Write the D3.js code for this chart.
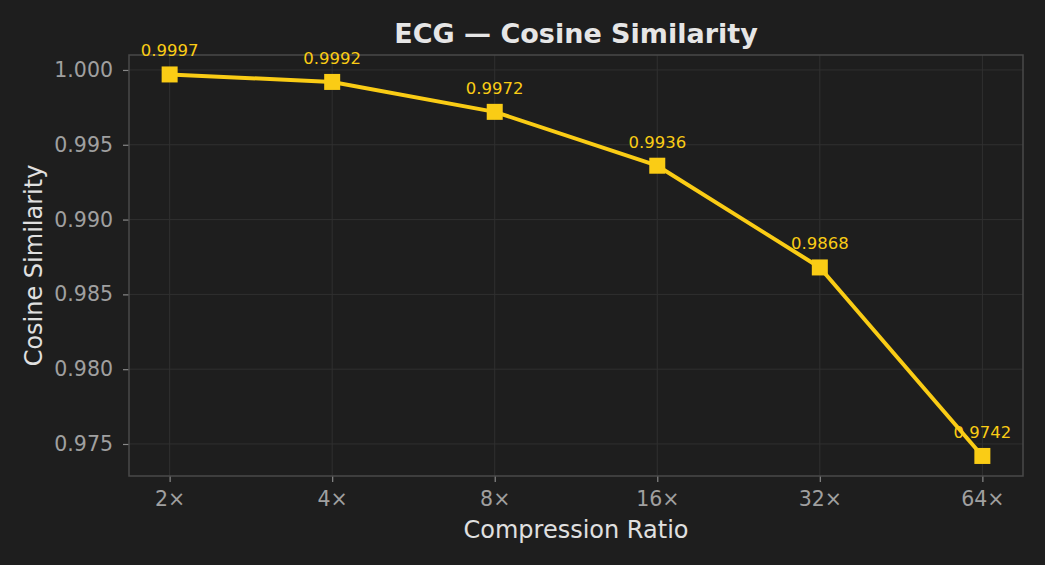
<!DOCTYPE html>
<html>
<head>
<meta charset="utf-8">
<script src="https://cdn.jsdelivr.net/npm/d3@7"></script>
<style>
  html, body { margin: 0; padding: 0; background: #1e1e1e; }
  svg { display: block; font-family: "DejaVu Sans", sans-serif; }
</style>
</head>
<body>
<svg id="chart"></svg>
<script>
var ratios = ["2\u00d7", "4\u00d7", "8\u00d7", "16\u00d7", "32\u00d7", "64\u00d7"];
var cosSim = [0.9997, 0.9992, 0.9972, 0.9936, 0.9868, 0.9742];
var yTicks = [0.975, 0.980, 0.985, 0.990, 0.995, 1.000];

var W = 1045, H = 565;
var mLeft = 129, mRight = 1023, mTop = 55, mBottom = 476;

var svg = d3.select("#chart").attr("width", W).attr("height", H);
svg.append("rect").attr("width", W).attr("height", H).attr("fill", "#1e1e1e");

var x = d3.scalePoint().domain(ratios).range([mLeft, mRight]).padding(0.25);
var y = d3.scaleLinear().domain([0.97286, 1.001]).range([mBottom, mTop]);

// grid
svg.append("g").selectAll("line").data(yTicks).join("line")
  .attr("x1", mLeft).attr("x2", mRight)
  .attr("y1", function (d) { return y(d); }).attr("y2", function (d) { return y(d); })
  .attr("stroke", "#303030").attr("stroke-width", 1);
svg.append("g").selectAll("line").data(ratios).join("line")
  .attr("x1", function (d) { return x(d); }).attr("x2", function (d) { return x(d); })
  .attr("y1", mTop).attr("y2", mBottom)
  .attr("stroke", "#303030").attr("stroke-width", 1);

// axes
var yAxis = d3.axisLeft(y).tickValues(yTicks).tickFormat(d3.format(".3f")).tickSize(6).tickPadding(10);
var xAxis = d3.axisBottom(x).tickSize(6).tickPadding(7);

var gy = svg.append("g").attr("transform", "translate(" + mLeft + ",0)").call(yAxis);
var gx = svg.append("g").attr("transform", "translate(0," + mBottom + ")").call(xAxis);
[gy, gx].forEach(function (g) {
  g.select(".domain").remove();
  g.selectAll(".tick line").attr("stroke", "#888").attr("stroke-width", 1.2);
  g.selectAll(".tick text").attr("fill", "#a0a0a0").style("font-size", "20.5px")
    .style("font-family", "DejaVu Sans, sans-serif");
});
gx.selectAll(".tick text").attr("dy", "0.85em");

// frame
svg.append("rect")
  .attr("x", mLeft).attr("y", mTop).attr("width", mRight - mLeft).attr("height", mBottom - mTop)
  .attr("fill", "none").attr("stroke", "#4a4a4a").attr("stroke-width", 1.5);

// line
var line = d3.line()
  .x(function (d, i) { return x(ratios[i]); })
  .y(function (d) { return y(d); });
svg.append("path").datum(cosSim)
  .attr("d", line).attr("fill", "none")
  .attr("stroke", "#facc15").attr("stroke-width", 4).attr("stroke-linejoin", "round");

svg.append("g").selectAll("rect").data(cosSim).join("rect")
  .attr("x", function (d, i) { return x(ratios[i]) - 8; })
  .attr("y", function (d) { return y(d) - 8; })
  .attr("width", 16).attr("height", 16)
  .attr("fill", "#facc15");

svg.append("g").selectAll("text").data(cosSim).join("text")
  .attr("x", function (d, i) { return x(ratios[i]); })
  .attr("y", function (d) { return y(d) - 18; })
  .attr("text-anchor", "middle")
  .attr("fill", "#facc15")
  .style("font-size", "16.5px")
  .text(function (d) { return d.toFixed(4); });

// titles
svg.append("text").attr("x", (mLeft + mRight) / 2).attr("y", 43)
  .attr("text-anchor", "middle").attr("fill", "#e6e6e6")
  .style("font-size", "27px").style("font-weight", "bold")
  .text("ECG \u2014 Cosine Similarity");

svg.append("text").attr("x", (mLeft + mRight) / 2).attr("y", 538)
  .attr("text-anchor", "middle").attr("fill", "#e0e0e0")
  .style("font-size", "24px")
  .text("Compression Ratio");

svg.append("text")
  .attr("transform", "translate(42," + (mTop + mBottom) / 2 + ") rotate(-90)")
  .attr("text-anchor", "middle").attr("fill", "#e0e0e0")
  .style("font-size", "24px")
  .text("Cosine Similarity");
</script>
</body>
</html>
